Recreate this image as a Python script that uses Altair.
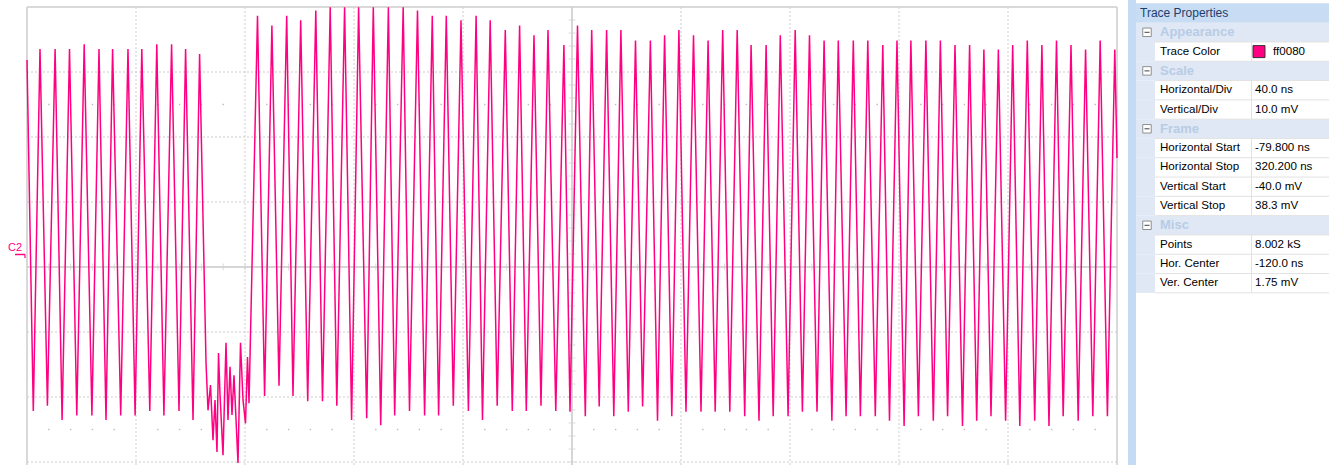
import altair as alt
import pandas as pd

# ---------------- trace turning points (time ns, voltage mV)
peak_t = [-75.03, -69.49, -64.2, -58.81, -53.38, -48.39, -42.74, -37.67, -32.17, -26.74, -21.6, -16.46,
          4.79, 10.07, 15.5, 20.64, 26.18, 31.47, 36.75, 41.89, 47.28, 52.82, 58.25, 63.5, 68.93, 74.07,
          79.47, 85.01, 90.18, 95.72, 100.97, 106.25, 111.39, 117.23,
          122.22, 127.43, 132.9, 138.14, 143.5, 148.97, 154.18, 159.43, 164.79, 170.14, 175.5, 180.82,
          185.92, 191.43, 196.64, 202.11, 207.35, 212.71, 217.92, 223.43, 228.75, 234.25, 239.46, 244.56,
          250.07, 255.39, 260.75, 266.11, 271.35, 276.67, 281.92, 287.28, 292.64, 298.0, 303.32, 308.67,
          314.03, 319.39]
peak_v = [35.3, 35.3, 35.3, 36.0, 35.3, 35.3, 35.3, 35.3, 36.0, 36.0, 35.3, 34.5,
          40.4, 38.9, 40.4, 39.7, 41.2, 41.7, 41.7, 41.7, 41.7, 41.7, 41.7, 41.2, 40.4, 40.4,
          39.7, 40.4, 39.7, 38.2, 38.9, 37.4, 38.2, 35.9,
          38.9, 38.2, 38.2, 38.2, 36.6, 36.6, 37.4, 38.2, 37.4, 36.6, 38.2, 38.2,
          35.9, 35.9, 37.4, 38.2, 37.4, 36.6, 36.6, 36.6, 36.6, 35.9, 36.6, 36.6,
          36.6, 36.6, 35.9, 35.9, 35.2, 35.2, 35.9, 36.6, 35.9, 36.6, 35.9, 35.2,
          36.6, 35.2]
trough_t = [-77.49, -72.31, -66.92, -61.53, -55.98, -50.81, -45.41, -40.13, -34.74, -29.56, -24.02, -18.88,
            7.39, 12.68, 17.81, 23.21, 28.64, 33.89, 39.32, 44.86, 50.0, 55.13, 60.57, 66.11, 71.25,
            76.64, 82.18, 87.35, 92.75, 98.29, 103.43, 108.82, 114.25,
            119.47, 125.08, 130.18, 135.54, 140.86, 146.11, 151.58, 156.82, 162.03, 167.54, 172.75,
            178.11, 183.58, 188.82, 194.03, 199.5, 204.75, 210.11, 215.57, 220.78, 226.03, 231.5,
            236.71, 242.07, 247.32, 252.79, 258.03, 263.5, 268.71, 273.96, 279.32, 284.53, 290.0,
            295.24, 300.45, 305.96, 311.32, 316.68]
trough_v = [-20.4, -19.6, -21.8, -21.1, -21.1, -21.8, -21.1, -21.1, -20.4, -21.1, -20.4, -21.8,
            -18.1, -16.5, -18.1, -18.9, -18.9, -19.6, -21.8, -21.5, -22.6, -21.1, -20.4, -21.1, -21.1,
            -19.6, -20.4, -21.8, -19.6, -20.4, -20.4, -19.6, -20.4,
            -20.5, -21.2, -19.7, -21.2, -20.5, -19.7, -21.9, -21.2, -20.5, -20.5, -20.5,
            -20.5, -21.2, -21.9, -21.2, -21.2, -20.5, -20.5, -21.9, -21.2, -21.2, -21.2,
            -21.9, -22.7, -21.2, -21.9, -21.2, -22.7, -21.9, -21.2, -21.9, -22.7, -21.9,
            -22.7, -21.2, -21.9, -21.2, -21.2]
# noisy drop-out between the two bursts
burst_t = [-14.11, -13.38, -12.46, -11.54, -10.81, -10.08, -9.52, -8.97, -7.87, -6.77,
           -6.04, -5.3, -4.57, -3.84, -2.37, -1.45, -0.53, 0.38, 1.12, 1.67]
burst_v = [-12.9, -20.3, -16.4, -24.9, -18.7, -26.7, -11.5, -17.9, -27.2, -9.9,
           -21.8, -13.6, -21.0, -14.9, -28.4, -9.9, -18.7, -22.3, -12.1, -19.2]
edge_t = [-79.8, 320.2]
edge_v = [33.6, 18.5]

# ---------------- screen settings
h_start, h_div, n_hdiv = -79.8, 40.0, 10
v_center, v_div = 1.75, 10.0
h_end = h_start + n_hdiv * h_div
h_center = h_start + 5 * h_div
v_top = v_center + 4 * v_div
v_bottom = -28.71

# ---------------- properties panel
panel_names = ["Trace Properties", "Appearance", "Trace Color", "Scale", "Horizontal/Div", "Vertical/Div",
               "Frame", "Horizontal Start", "Horizontal Stop", "Vertical Start", "Vertical Stop",
               "Misc", "Points", "Hor. Center", "Ver. Center"]
panel_values = ["", "", "ff0080", "", "40.0 ns", "10.0 mV", "", "-79.800 ns", "320.200 ns",
                "-40.0 mV", "38.3 mV", "", "8.002 kS", "-120.0 ns", "1.75 mV"]
panel_kinds = ["header", "section", "prop", "section", "prop", "prop", "section", "prop", "prop",
               "prop", "prop", "section", "prop", "prop", "prop"]

PINK = "#ff0080"
GRID = "#cdcdcd"
FONT = "Liberation Sans"
ROW_TOP, ROW_H = 3.35, 19.3

xs = alt.Scale(domain=[h_start, h_end], range=[27, 1117], nice=False, zero=False)
ys = alt.Scale(domain=[v_bottom, v_top], range=[465, 7], nice=False, zero=False)

trace = pd.DataFrame({
    "t": edge_t + peak_t + trough_t + burst_t,
    "v": edge_v + peak_v + trough_v + burst_v,
}).sort_values("t")

grid_t = [h_start + k * h_div for k in range(1, n_hdiv) if k != 5]
grid_v = [v_center + m * v_div for m in (-3, -2, -1, 1, 2, 3)]
minor_t = [h_start + j * h_div / 5 for j in range(1, 5 * n_hdiv)]
minor_v = [v_center + j * v_div / 5 for j in range(-15, 20)]
dot_rows = []
for vv in (v_center + 2.5 * v_div, v_center - 2.5 * v_div):
    for j in range(1, 5 * n_hdiv):
        if j % 5:
            dot_rows.append({"t": h_start + j * h_div / 5, "v": vv})
one = pd.DataFrame({"a": [0]})


def X(f):
    return alt.X(f, scale=xs, axis=None)


def Y(f):
    return alt.Y(f, scale=ys, axis=None)


vgrid = alt.Chart(pd.DataFrame({"t": grid_t, "y0": v_top, "y1": v_bottom})).mark_rule(
    color=GRID, strokeDash=[2, 2], strokeWidth=1).encode(x=X("t:Q"), y=Y("y0:Q"), y2="y1:Q")
hgrid = alt.Chart(pd.DataFrame({"v": grid_v, "x0": h_start, "x1": h_end})).mark_rule(
    color=GRID, strokeDash=[2, 2], strokeWidth=1).encode(y=Y("v:Q"), x=X("x0:Q"), x2="x1:Q")
hcenter = alt.Chart(pd.DataFrame({"v": [v_center], "x0": [h_start], "x1": [h_end]})).mark_rule(
    color="#d6d6d6", strokeWidth=2).encode(y=Y("v:Q"), x=X("x0:Q"), x2="x1:Q")
vcenter = alt.Chart(pd.DataFrame({"t": [h_center], "y0": [v_top], "y1": [v_bottom]})).mark_rule(
    color="#d6d6d6", strokeWidth=2).encode(x=X("t:Q"), y=Y("y0:Q"), y2="y1:Q")
hticks = alt.Chart(pd.DataFrame({"t": minor_t, "v": v_center})).mark_tick(
    orient="vertical", color="#cfcfcf", size=7, thickness=1).encode(x=X("t:Q"), y=Y("v:Q"))
vticks = alt.Chart(pd.DataFrame({"v": minor_v, "t": h_center})).mark_tick(
    orient="horizontal", color="#cfcfcf", size=7, thickness=1).encode(y=Y("v:Q"), x=X("t:Q"))
dots = alt.Chart(pd.DataFrame(dot_rows)).mark_square(size=2, color="#bdbdbd", opacity=1).encode(
    x=X("t:Q"), y=Y("v:Q"))
border_top = alt.Chart(pd.DataFrame({"v": [v_top], "x0": [h_start], "x1": [h_end]})).mark_rule(
    color="#cccccc", strokeWidth=1.5).encode(y=Y("v:Q"), x=X("x0:Q"), x2="x1:Q")
border_lr = alt.Chart(pd.DataFrame({"t": [h_start, h_end], "y0": v_top, "y1": v_bottom})).mark_rule(
    color="#cccccc", strokeWidth=1.5).encode(x=X("t:Q"), y=Y("y0:Q"), y2="y1:Q")
line = alt.Chart(trace).mark_line(color=PINK, strokeWidth=1.5).encode(
    x=X("t:Q"), y=Y("v:Q"), order="t:Q")
c2_text = alt.Chart(one).mark_text(text="C2", color=PINK, fontSize=11, font=FONT,
                                   align="left", baseline="middle").encode(
    x=alt.value(8), y=alt.value(247.5))
c2_mark = alt.Chart(one).mark_rule(color=PINK, strokeWidth=1.5).encode(
    x=alt.value(15), x2=alt.value(25), y=alt.value(254.5))
c2_hook = alt.Chart(one).mark_rule(color=PINK, strokeWidth=1.2).encode(
    x=alt.value(25), y=alt.value(254.5), y2=alt.value(258))

# ---------------- panel (rows laid out by pixel rows, identity scale)
panel = pd.DataFrame({"row": list(range(len(panel_names))), "name": panel_names,
                      "value": panel_values, "kind": panel_kinds})
base = alt.Chart(panel).transform_calculate(
    py0=f"{ROW_TOP} + datum.row * {ROW_H}",
    py1=f"{ROW_TOP} + (datum.row + 1) * {ROW_H}",
    pyc=f"{ROW_TOP} + (datum.row + 0.5) * {ROW_H}",
)


def PY(f):
    return alt.Y(f, scale=None, axis=None)


strip = alt.Chart(one).mark_rect(color="#c5daf3").encode(
    x=alt.value(1128), x2=alt.value(1136), y=alt.value(0), y2=alt.value(465))
header_bg = base.transform_filter("datum.kind == 'header'").mark_rect(color="#c8dcf3").encode(
    x=alt.value(1136), x2=alt.value(1329), y=PY("py0:Q"), y2="py1:Q")
section_bg = base.transform_filter("datum.kind == 'section'").mark_rect(color="#dfe8f4").encode(
    x=alt.value(1136), x2=alt.value(1329), y=PY("py0:Q"), y2="py1:Q")
indent_bg = base.transform_filter("datum.kind == 'prop'").mark_rect(color="#dfe8f4").encode(
    x=alt.value(1136), x2=alt.value(1155), y=PY("py0:Q"), y2="py1:Q")
row_lines = base.transform_filter("datum.kind != 'header'").mark_rule(color="#e2e2e2").encode(
    x=alt.value(1155), x2=alt.value(1329), y=PY("py1:Q"))
col_sep = base.transform_filter("datum.kind == 'prop'").mark_rule(color="#e2e2e2").encode(
    x=alt.value(1251.5), y=PY("py0:Q"), y2="py1:Q")
box = base.transform_filter("datum.kind == 'section'").mark_square(
    size=72, fill="white", stroke="#8f8f8f", strokeWidth=1, opacity=1).encode(
    x=alt.value(1147), y=PY("pyc:Q"))
minus = base.transform_filter("datum.kind == 'section'").mark_rule(color="#444444", strokeWidth=1).encode(
    x=alt.value(1144.5), x2=alt.value(1149.5), y=PY("pyc:Q"))
header_txt = base.transform_filter("datum.kind == 'header'").mark_text(
    align="left", baseline="middle", fontSize=12, font=FONT, color="#1d3f6e").encode(
    x=alt.value(1140), y=PY("pyc:Q"), text="name:N")
section_txt = base.transform_filter("datum.kind == 'section'").mark_text(
    align="left", baseline="middle", fontSize=13, fontWeight="bold", font=FONT, color="#b8cce6").encode(
    x=alt.value(1160), y=PY("pyc:Q"), text="name:N")
name_txt = base.transform_filter("datum.kind == 'prop'").mark_text(
    align="left", baseline="middle", fontSize=11.6, font=FONT, color="#000000").encode(
    x=alt.value(1160), y=PY("pyc:Q"), text="name:N")
value_txt = base.transform_filter("datum.kind == 'prop' && datum.name != 'Trace Color'").mark_text(
    align="left", baseline="middle", fontSize=11.6, font=FONT, color="#000000").encode(
    x=alt.value(1255), y=PY("pyc:Q"), text="value:N")
color_txt = base.transform_filter("datum.name == 'Trace Color'").mark_text(
    align="left", baseline="middle", fontSize=11.6, font=FONT, color="#000000").encode(
    x=alt.value(1273), y=PY("pyc:Q"), text="value:N")
swatch = base.transform_filter("datum.name == 'Trace Color'").transform_calculate(
    s0="datum.pyc - 6", s1="datum.pyc + 6", sw="'#' + datum.value").mark_rect(
    stroke="#333333", strokeWidth=1).encode(
    x=alt.value(1253), x2=alt.value(1265), y=PY("s0:Q"), y2="s1:Q",
    color=alt.Color("sw:N", scale=None))

chart = alt.layer(
    vgrid, hgrid, hcenter, vcenter, hticks, vticks, dots, border_top, border_lr, line,
    c2_text, c2_mark, c2_hook,
    strip, header_bg, section_bg, indent_bg, row_lines, col_sep, box, minus,
    header_txt, section_txt, name_txt, value_txt, color_txt, swatch,
).properties(
    width=1329, height=465, autosize=alt.AutoSizeParams(type="none"), padding=0,
    background="white").configure_view(stroke=None)

chart.save("out.html", embed_options={"renderer": "svg", "actions": False})
